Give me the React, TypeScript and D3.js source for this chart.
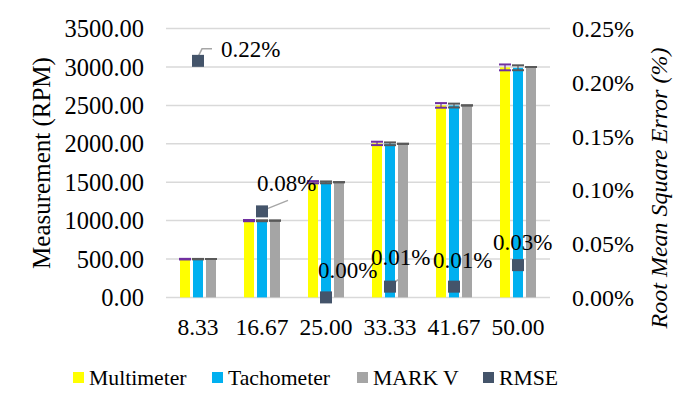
import React from 'react';
import * as d3 from 'd3';

// speed categories (x axis)
const categories = ["8.33", "16.67", "25.00", "33.33", "41.67", "50.00"];
const seriesNames = ["Multimeter", "Tachometer", "MARK V"];

const multimeter = [498, 1000, 1500, 2005, 2500, 2995];
const tachometer = [498, 998, 1498, 2000, 2498, 2990];
const markV = [500, 1000, 1500, 2000, 2500, 3000];

const multimeterErr = [4, 8, 14, 22, 30, 38];
const tachometerErr = [3, 6, 12, 18, 25, 32];
const markVErr = [0, 0, 0, 0, 0, 0];

// root mean square error in %
const rmse = [0.22, 0.08, 0.0, 0.01, 0.01, 0.03];
const rmseLabels = ["0.22%", "0.08%", "0.00%", "0.01%", "0.01%", "0.03%"];

const leftTicks = [0, 500, 1000, 1500, 2000, 2500, 3000, 3500];
const rightTicks = [0, 0.05, 0.1, 0.15, 0.2, 0.25];

// label placement relative to marker (dx, dy) - like excel manual positioning
const labelOffsets = [[23, -12], [-5, -28], [-8, -27], [-19, -30], [-21, -27], [-25, -23]];
// leader lines (relative to marker center), null = none
const leaders: (number[][] | null)[] = [
    [[0, -4], [4, -12], [14, -12]],
    [[1, -1], [26, -11]],
    null,
    [[0, 0], [8, -7]],
    null,
    null,
];

const colors = ["#FFFF00", "#00B0F0", "#A5A5A5"];
const errColors = ["#7030A0", "#595959", "#595959"];
const rmseColor = "#44546A";
const serif = { fontFamily: '"Liberation Serif"' };

const width = 698;
const height = 408;
const left = 166, right = 550, top = 28.6, bottom = 297.4;

const y = d3.scaleLinear().domain([0, 3500]).range([bottom, top]);
const y2 = d3.scaleLinear().domain([0, 0.25]).range([bottom, top]);
const x0 = d3.scaleBand().domain(categories).range([left, right]).padding(0);
const x1 = d3.scaleBand().domain(seriesNames).range([14, 50]).paddingInner(0.23);

export default function App() {
    const values = [multimeter, tachometer, markV];
    const errs = [multimeterErr, tachometerErr, markVErr];
    const barData = categories.flatMap((c, i) =>
        seriesNames.map((s, k) => ({ c, s, k, v: values[k][i], e: errs[k][i] })));

    const mx = (i: number) => x0(categories[i])! + x0.bandwidth() / 2;
    const my = (i: number) => y2(rmse[i]);
    const line = d3.line();

    const legendItems = [...seriesNames, "RMSE"];
    const legendColors = [...colors, rmseColor];
    const legendX = [73, 212, 357, 483];

    return (
        <svg width={width} height={height} style={{ position: "absolute", left: 0, top: 0 }}>
            <rect width={width} height={height} fill="white" />

            {/* gridlines */}
            {leftTicks.map(t => (
                <line key={t} x1={left} x2={right} y1={y(t)} y2={y(t)} stroke="#D9D9D9" strokeWidth={1.5} />
            ))}

            {/* left ticks */}
            {leftTicks.map(t => (
                <text key={t} x={144} y={y(t)} dy="0.35em" textAnchor="end" fontSize={24.5} style={serif}>
                    {t.toFixed(2)}
                </text>
            ))}

            {/* right ticks */}
            {rightTicks.map(t => (
                <text key={t} x={572} y={y2(t)} dy="0.35em" fontSize={24} style={serif}>
                    {t.toFixed(2) + "%"}
                </text>
            ))}

            {/* x labels */}
            {categories.map(c => (
                <text key={c} x={x0(c)! + x0.bandwidth() / 2} y={327} dy="0.35em" textAnchor="middle" fontSize={23.5} style={serif}>
                    {c}
                </text>
            ))}

            {/* axis titles */}
            <text transform="translate(41,163) rotate(-90)" dy="0.35em" textAnchor="middle" fontSize={25} style={serif}>
                Measurement (RPM)
            </text>
            <text transform="translate(659,188) rotate(-90)" dy="0.35em" textAnchor="middle" fontSize={24} fontStyle="italic" style={serif}>
                Root Mean Square Error (%)
            </text>

            {/* bars */}
            {barData.map((d, i) => (
                <rect key={i} x={x0(d.c)! + x1(d.s)!} y={y(d.v)} width={x1.bandwidth()} height={y(0) - y(d.v)} fill={colors[d.k]} />
            ))}

            {/* error bars */}
            {barData.map((d, i) => {
                const cx = x0(d.c)! + x1(d.s)! + x1.bandwidth() / 2;
                return (
                    <g key={i} stroke={errColors[d.k]} strokeWidth={2}>
                        <line x1={cx} x2={cx} y1={y(d.v + d.e)} y2={y(d.v - d.e)} strokeWidth={1.2} />
                        <line x1={cx - 6} x2={cx + 6} y1={y(d.v + d.e)} y2={y(d.v + d.e)} />
                        <line x1={cx - 6} x2={cx + 6} y1={y(d.v - d.e)} y2={y(d.v - d.e)} />
                    </g>
                );
            })}

            {/* leader lines */}
            {leaders.map((pts, i) => pts && (
                <path key={i}
                    d={line(pts.map(p => [mx(i) + p[0], my(i) + p[1]] as [number, number])) || ""}
                    fill="none" stroke="#A6A6A6" strokeWidth={1.5} />
            ))}

            {/* rmse markers */}
            {rmse.map((r, i) => (
                <rect key={i} x={mx(i) - 6} y={my(i) - 6} width={12} height={12} fill={rmseColor} />
            ))}

            {rmseLabels.map((l, i) => (
                <text key={i} x={mx(i) + labelOffsets[i][0]} y={my(i) + labelOffsets[i][1]} dy="0.35em" fontSize={23} style={serif}>
                    {l}
                </text>
            ))}

            {/* legend */}
            {legendItems.map((l, i) => (
                <g key={l} transform={`translate(${legendX[i]},372)`}>
                    <rect width={11} height={11} fill={legendColors[i]} />
                    <text x={16} y={5.5} dy="0.35em" fontSize={21.7} style={serif}>{l}</text>
                </g>
            ))}
        </svg>
    );
}
